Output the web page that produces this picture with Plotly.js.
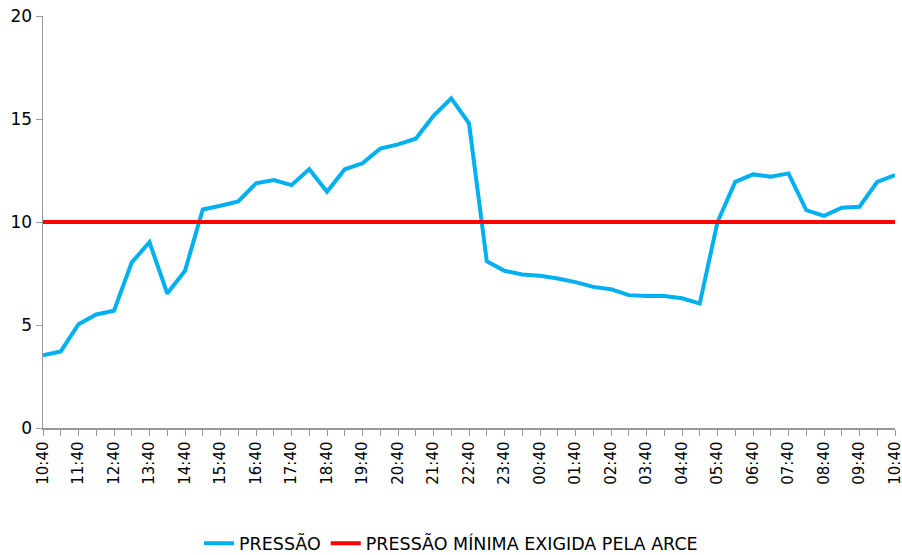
<!DOCTYPE html>
<html>
<head>
<meta charset="utf-8">
<script src="https://cdn.plot.ly/plotly-3.0.1.min.js"></script>
<style>html,body{margin:0;padding:0;background:#fff;}#chart{width:902px;height:555px;}</style>
</head>
<body>
<div id="chart"></div>
<script>
const times = ["10:40","11:10","11:40","12:10","12:40","13:10","13:40","14:10","14:40","15:10",
  "15:40","16:10","16:40","17:10","17:40","18:10","18:40","19:10","19:40","20:10",
  "20:40","21:10","21:40","22:10","22:40","23:10","23:40","00:10","00:40","01:10",
  "01:40","02:10","02:40","03:10","03:40","04:10","04:40","05:10","05:40","06:10",
  "06:40","07:10","07:40","08:10","08:40","09:10","09:40","10:10","10:40"];
const pressao = [3.53,3.72,5.04,5.51,5.69,8.04,9.02,6.53,7.63,10.61,
  10.79,11.0,11.88,12.04,11.79,12.56,11.47,12.56,12.85,13.56,
  13.77,14.04,15.15,16.0,14.79,8.1,7.63,7.45,7.39,7.26,
  7.08,6.85,6.74,6.45,6.41,6.41,6.30,6.04,10.0,11.95,
  12.31,12.2,12.36,10.58,10.30,10.69,10.74,11.95,12.28];
const pressaoMinima = times.map(() => 10);
const seriesNames = ["PRESSÃO", "PRESSÃO MÍNIMA EXIGIDA PELA ARCE"];

// positions along the axis: one per reading (every 30 min)
const idx = times.map((t, i) => i);
const tickVals = idx.filter(i => i % 2 === 0);
const tickText = tickVals.map(i => times[i]);

const traces = [
  {x: idx, y: pressao, type: "scatter", mode: "lines", name: seriesNames[0],
   line: {color: "#00b0f0", width: 4}},
  {x: idx, y: pressaoMinima, type: "scatter", mode: "lines", name: seriesNames[1],
   line: {color: "#ff0000", width: 4}}
];

const layout = {
  width: 902, height: 555,
  margin: {l: 43, r: 7, t: 16, b: 127, autoexpand: false},
  paper_bgcolor: "#fff", plot_bgcolor: "#fff",
  font: {family: "DejaVu Sans", size: 16, color: "#000"},
  showlegend: true,
  legend: {orientation: "h", xref: "container", x: 0.5, xanchor: "center", y: -0.28, yanchor: "middle",
           font: {size: 17.5, color: "#000"}, tracegroupgap: 0},
  xaxis: {
    range: [0, times.length - 1], automargin: false, ticklabeloverflow: "allow",
    tickmode: "array", tickvals: tickVals, ticktext: tickText, tickangle: -90,
    ticks: "outside", ticklen: 6, tickcolor: "#999", showgrid: false, zeroline: false,
    showline: true, linecolor: "#999", linewidth: 1.5,
    tickfont: {size: 15},
    minor: {tickmode: "array", tickvals: idx, ticks: "outside", ticklen: 6, tickcolor: "#999", showgrid: false}
  },
  yaxis: {
    range: [0, 20], dtick: 5, ticks: "outside", ticklen: 6, tickcolor: "#999", automargin: false,
    showgrid: false, zeroline: false, showline: true, linecolor: "#999", linewidth: 1.5,
    tickfont: {size: 17}
  }
};

Plotly.newPlot("chart", traces, layout, {displayModeBar: false, staticPlot: true});
</script>
</body>
</html>
